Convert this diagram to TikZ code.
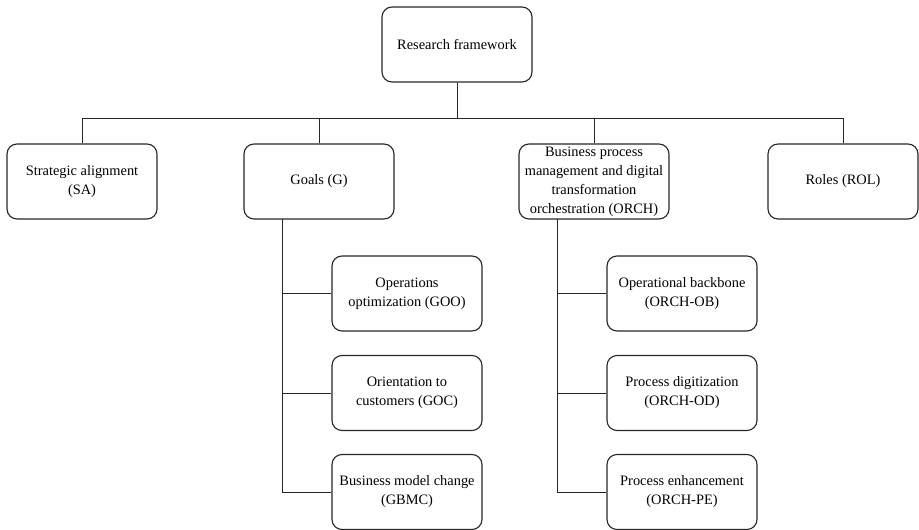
\documentclass[tikz,border=0pt]{standalone}
\usepackage{fontspec}
\setmainfont{Liberation Serif}
\begin{document}
\begin{tikzpicture}[x=1pt,y=1pt,
  box/.style={draw=black!85, line width=1.1pt, rounded corners=10pt, minimum width=150pt, minimum height=75pt, inner sep=0pt, align=center, font=\fontsize{14.4}{19}\selectfont},
  link/.style={draw=black!85, line width=1pt}]
\useasboundingbox (0,0) rectangle (919,-530);
\node[box] (root) at (457,-44.5) {Research framework};
\node[box] (SA) at (82,-181.5) {Strategic alignment\\(SA)};
\node[box] (G) at (319,-181.5) {Goals (G)};
\node[box] (ORCH) at (594,-181.5) {Business process\\management and digital\\transformation\\orchestration (ORCH)};
\node[box] (ROL) at (843,-181.5) {Roles (ROL)};
\node[box] (GOO) at (407,-293.5) {Operations\\optimization (GOO)};
\node[box] (GOC) at (407,-393) {Orientation to\\customers (GOC)};
\node[box] (GBMC) at (407,-492) {Business model change\\(GBMC)};
\node[box] (OB) at (682,-293.5) {Operational backbone\\(ORCH-OB)};
\node[box] (OD) at (682,-393) {Process digitization\\(ORCH-OD)};
\node[box] (PE) at (682,-492) {Process enhancement\\(ORCH-PE)};
\coordinate (bus) at (457,-118);
\coordinate (gstem) at (282,-219);
\coordinate (ostem) at (557,-219);
\draw[link] (root.south) -- (bus);
\draw[link] (SA.north) |- (ROL.north |- bus) -- (ROL.north);
\draw[link] (G.north) -- (G.north |- bus);
\draw[link] (ORCH.north) -- (ORCH.north |- bus);
\draw[link] (gstem) |- (GBMC.west);
\draw[link] (gstem |- GOO.west) -- (GOO.west);
\draw[link] (gstem |- GOC.west) -- (GOC.west);
\draw[link] (ostem) |- (PE.west);
\draw[link] (ostem |- OB.west) -- (OB.west);
\draw[link] (ostem |- OD.west) -- (OD.west);
\end{tikzpicture}
\end{document}
